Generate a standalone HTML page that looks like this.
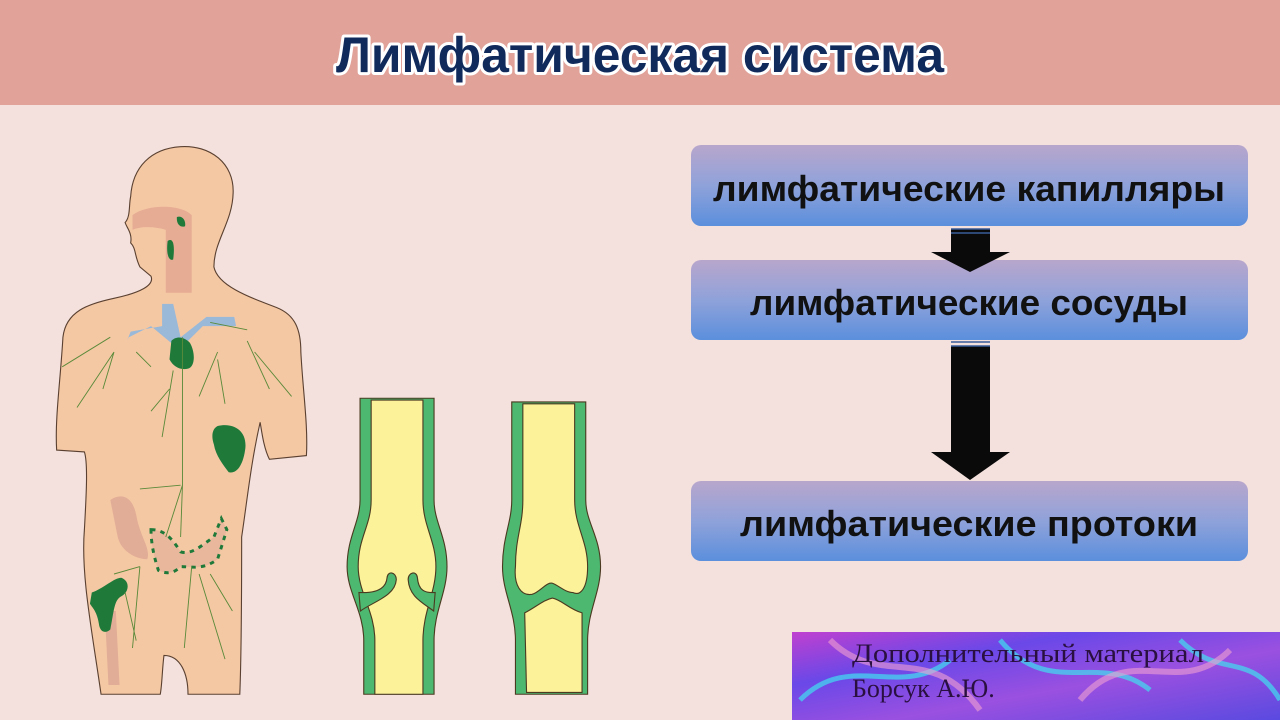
<!DOCTYPE html>
<html><head><meta charset="utf-8"><style>
html,body{margin:0;padding:0;width:1280px;height:720px;overflow:hidden;background:#f4e1dd}
svg{display:block}
</style></head><body>
<svg width="1280" height="720" viewBox="0 0 1280 720" xmlns="http://www.w3.org/2000/svg">
<defs>
<linearGradient id="bx" x1="0" y1="0" x2="0" y2="1">
<stop offset="0" stop-color="#b8a6cc"/><stop offset="0.5" stop-color="#8fa2da"/><stop offset="1" stop-color="#5b8fdc"/>
</linearGradient>
<linearGradient id="pp" x1="0" y1="0" x2="1" y2="1">
<stop offset="0" stop-color="#c040d0"/><stop offset="0.3" stop-color="#6a48e8"/><stop offset="0.6" stop-color="#9a50e0"/><stop offset="1" stop-color="#5a4ae0"/>
</linearGradient>
</defs>
<rect x="0" y="0" width="1280" height="720" fill="#f4e1dd"/>
<rect x="0" y="0" width="1280" height="105" fill="#e0a299"/>
<text x="640" y="72" text-anchor="middle" style="font-family:'Liberation Sans',sans-serif" font-size="50" font-weight="bold" fill="#102a5c" stroke="#fff" stroke-width="6" paint-order="stroke" stroke-linejoin="round" textLength="608" lengthAdjust="spacingAndGlyphs">Лимфатическая система</text>

<g style="font-family:'Liberation Sans',sans-serif">
<rect x="691" y="145" width="557" height="81" rx="10" fill="url(#bx)"/>
<rect x="691" y="260" width="557" height="80" rx="10" fill="url(#bx)"/>
<rect x="691" y="481" width="557" height="80" rx="10" fill="url(#bx)"/>
<text x="969" y="201" text-anchor="middle" font-size="36" font-weight="bold" fill="#111" textLength="512" lengthAdjust="spacingAndGlyphs">лимфатические капилляры</text>
<text x="969" y="315" text-anchor="middle" font-size="36" font-weight="bold" fill="#111" textLength="438" lengthAdjust="spacingAndGlyphs">лимфатические сосуды</text>
<text x="969" y="536" text-anchor="middle" font-size="36" font-weight="bold" fill="#111" textLength="458" lengthAdjust="spacingAndGlyphs">лимфатические протоки</text>
</g>

<path d="M951 229 H990 V252 H1010 L970 272 L931 252 H951 Z" fill="#0a0a0a"/>
<path d="M951 229 H990 M951 233 H990" stroke="#3a5c9a" stroke-width="1.5"/>
<path d="M951 346 H990 V452 H1010 L970 480 L931 452 H951 Z" fill="#0a0a0a"/>
<path d="M951 342 H990 M951 346 H990" stroke="#3a5c9a" stroke-width="1.5"/>

<g transform="translate(40,130) scale(0.37)">
<path d="M380 45 C460 40 525 90 522 170 C520 250 470 300 470 370 C480 420 560 450 640 480 C690 500 705 540 705 600 C710 700 725 800 720 880 L620 890 C605 860 600 820 595 790 C570 900 560 1000 545 1100 C545 1250 545 1400 540 1525 L400 1525 C400 1470 380 1420 335 1420 C330 1460 330 1500 325 1525 L165 1525 C140 1350 110 1200 120 1080 C125 990 130 900 120 870 L45 865 C40 780 55 680 62 560 C70 490 130 470 200 455 C270 440 310 420 300 395 L270 370 C255 340 260 320 245 305 C250 280 235 265 230 250 C245 235 240 200 245 180 C250 100 300 50 380 45 Z" fill="#f5c8a4" stroke="#5a4030" stroke-width="3"/>
<path d="M250 230 C290 200 380 200 410 230 L410 440 L340 440 L340 270 C310 260 270 260 250 270 Z" fill="#e2a590" opacity="0.8"/>
<path d="M190 1000 C220 980 250 990 260 1040 C270 1100 300 1130 290 1160 C260 1160 220 1140 210 1100 Z M175 1300 L205 1300 L215 1500 L185 1500 Z" fill="#e2ad96"/>
<path d="M330 470 L360 470 L380 560 L450 505 L525 505 L530 530 L440 530 L400 570 L360 580 L300 530 L240 560 L235 570 L245 545 L330 530 Z" fill="#9ab9d8"/>
<path d="M355 570 C370 555 390 560 405 575 C420 600 420 640 400 645 C380 650 360 640 350 620 Z M370 235 C385 230 395 245 392 260 C380 265 368 255 370 235 Z M345 300 C360 290 365 310 360 350 C350 355 340 340 345 300 Z M480 800 C520 790 560 810 555 860 C550 900 535 930 510 925 C495 905 475 880 470 850 C460 820 470 805 480 800 Z M140 1250 C170 1240 200 1210 220 1210 C245 1220 240 1250 220 1260 C200 1270 200 1300 190 1350 C180 1360 165 1360 160 1340 C155 1300 140 1290 135 1280 Z" fill="#1f7a3a"/>
<path d="M300 1080 C340 1080 360 1110 380 1140 C410 1150 440 1120 470 1100 L490 1050 L505 1080 L480 1160 C440 1190 410 1180 380 1180 C360 1200 340 1200 320 1190 C310 1160 300 1120 300 1080 Z" fill="#e8b79c" stroke="#1f7a3a" stroke-width="8" stroke-dasharray="12 14"/>
<g stroke="#5a8a3a" stroke-width="2.5" fill="none">
<path d="M385 560 L385 960 L340 1100 M385 960 L380 1100"/>
<path d="M380 960 L270 970 M200 600 L100 750 M200 600 L170 700 M260 600 L300 640 M560 570 L620 700 M580 600 L680 720 M480 600 L430 720 M360 650 L330 830 M350 700 L300 760 M270 1180 L250 1400 M270 1180 L200 1200 M230 1250 L260 1380 M410 1180 L390 1400 M430 1200 L500 1430 M460 1200 L520 1300 M190 560 L60 640 M460 520 L560 540 M480 620 L500 740"/>
</g>
</g>

<g transform="translate(40,130) scale(0.37)" stroke="#4a3a20" stroke-width="3">
<path d="M865 725 H1065 V1000 C1065 1060 1100 1100 1100 1180 C1100 1250 1065 1300 1065 1380 V1525 H875 V1380 C875 1300 830 1250 830 1180 C830 1100 865 1060 865 1000 Z" fill="#4db870"/>
<path d="M895 730 H1035 V1000 C1035 1070 1070 1110 1070 1180 C1070 1250 1035 1300 1035 1380 V1525 H905 V1380 C905 1300 860 1250 860 1180 C860 1100 895 1070 895 1000 Z" fill="#fbf29a"/>
<path d="M866 1300 C900 1275 960 1260 963 1215 C963 1195 940 1190 938 1210 C935 1245 900 1252 862 1250 Z" fill="#4db870"/>
<path d="M1064 1300 C1030 1275 998 1260 995 1215 C995 1195 1018 1190 1020 1210 C1023 1245 1040 1252 1068 1250 Z" fill="#4db870"/>
<path d="M1275 735 H1475 V1000 C1475 1060 1515 1100 1515 1180 C1515 1250 1480 1300 1480 1380 V1525 H1285 V1380 C1285 1300 1250 1250 1250 1180 C1250 1100 1275 1060 1275 1000 Z" fill="#4db870"/>
<path d="M1305 740 H1445 V1000 C1445 1070 1480 1110 1480 1180 C1480 1240 1460 1260 1440 1250 C1420 1250 1400 1230 1385 1225 C1370 1220 1350 1250 1330 1255 C1300 1260 1280 1230 1285 1180 C1285 1100 1305 1070 1305 1000 Z" fill="#fbf29a"/>
<path d="M1310 1305 C1340 1290 1360 1270 1385 1265 C1410 1270 1430 1295 1465 1305 V1520 H1315 Z" fill="#fbf29a"/>
</g>

<rect x="792" y="632" width="488" height="88" fill="url(#pp)"/>
<path d="M800 700 C850 650 900 700 950 660 M1000 640 C1050 700 1100 650 1150 690 M1180 640 C1220 680 1250 650 1280 700" stroke="#40e0f0" stroke-width="5" fill="none" opacity="0.7"/>
<path d="M830 640 C880 690 930 640 980 710 M1080 700 C1130 640 1180 700 1230 650" stroke="#f0a0d0" stroke-width="6" fill="none" opacity="0.6"/>
<text x="852" y="662" style="font-family:'Liberation Serif',serif" font-size="26" fill="#2a1040" textLength="352" lengthAdjust="spacingAndGlyphs">Дополнительный материал</text>
<text x="852" y="697" style="font-family:'Liberation Serif',serif" font-size="26" fill="#2a1040">Борсук А.Ю.</text>
</svg>
</body></html>
